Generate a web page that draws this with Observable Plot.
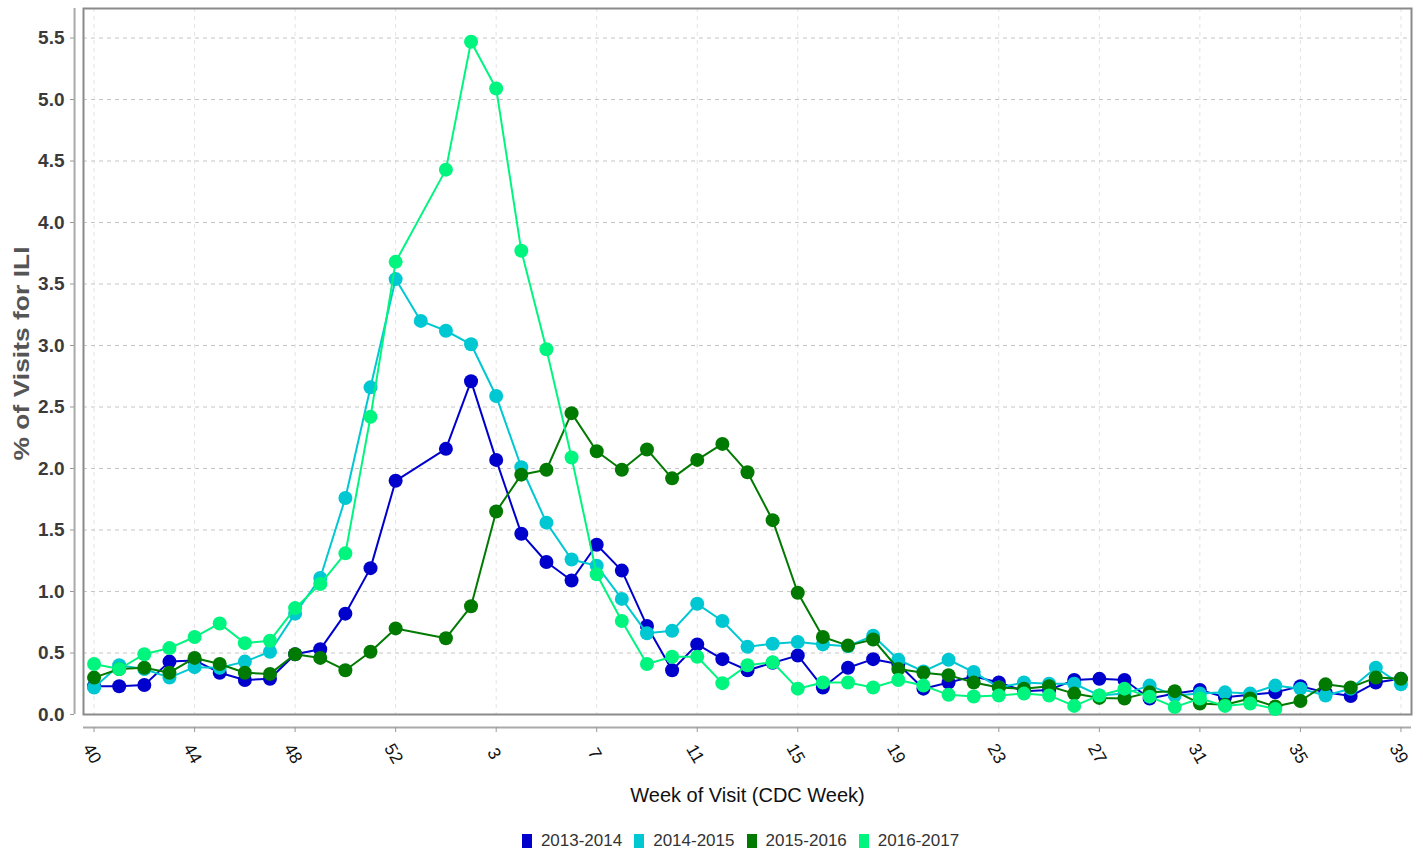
<!DOCTYPE html>
<html><head><meta charset="utf-8">
<script src="https://cdn.jsdelivr.net/npm/d3@7"></script>
<script src="https://cdn.jsdelivr.net/npm/@observablehq/plot@0.6"></script>
<style>
body{margin:0;background:#fff;font-family:"Liberation Sans",Arial,sans-serif;}
#wrap{position:relative;width:1423px;height:852px;overflow:hidden;}
#legend{position:absolute;left:0;top:831px;width:1423px;box-sizing:border-box;padding-left:58px;display:flex;justify-content:center;gap:12px;font-size:17px;color:#333;line-height:20px;}
.item{display:flex;align-items:center;}
.sw{width:10px;height:14px;margin-right:9px;}
</style></head><body>
<div id="wrap"><div id="chart"></div><div id="legend"></div></div>
<script>
// CDC weeks in season order (week 53 exists only in 2014-2015)
const weeks = [40,41,42,43,44,45,46,47,48,49,50,51,52,53,1,2,3,4,5,6,7,8,9,10,11,12,13,14,15,16,17,18,19,20,21,22,23,24,25,26,27,28,29,30,31,32,33,34,35,36,37,38,39];
const tickWeeks = [40,44,48,52,3,7,11,15,19,23,27,31,35,39];
const yTicks = [0,0.5,1,1.5,2,2.5,3,3.5,4,4.5,5,5.5];
const seasons = ["2013-2014","2014-2015","2015-2016","2016-2017"];
const colors = ["#0000CD","#00C8D2","#007A00","#00F57F"];

const s2013 = [0.23,0.23,0.24,0.43,0.44,0.34,0.28,0.29,0.49,0.53,0.82,1.19,1.90,null,2.16,2.71,2.07,1.47,1.24,1.09,1.38,1.17,0.72,0.36,0.57,0.45,0.36,0.42,0.48,0.22,0.38,0.45,0.41,0.21,0.26,0.31,0.26,0.19,0.20,0.28,0.29,0.28,0.13,0.17,0.20,0.14,0.16,0.18,0.23,0.18,0.15,0.26,0.29];
const s2014 = [0.22,0.40,0.37,0.30,0.385,0.38,0.43,0.51,0.82,1.11,1.76,2.66,3.54,3.20,3.12,3.01,2.59,2.01,1.56,1.26,1.21,0.94,0.66,0.68,0.90,0.76,0.55,0.575,0.59,0.57,0.555,0.64,0.445,0.35,0.445,0.345,0.22,0.26,0.25,0.25,0.155,0.17,0.235,0.155,0.17,0.18,0.17,0.235,0.21,0.155,0.21,0.38,0.245];
const s2015 = [0.30,0.37,0.38,0.34,0.46,0.41,0.34,0.33,0.49,0.46,0.36,0.51,0.70,null,0.62,0.88,1.65,1.95,1.99,2.45,2.14,1.99,2.155,1.92,2.07,2.20,1.97,1.58,0.99,0.63,0.56,0.61,0.37,0.34,0.32,0.26,0.22,0.21,0.23,0.17,0.135,0.13,0.18,0.19,0.09,0.08,0.13,0.065,0.11,0.245,0.22,0.30,0.29];
const s2016 = [0.41,0.37,0.49,0.54,0.63,0.74,0.58,0.60,0.865,1.06,1.31,2.42,3.68,null,4.43,5.47,5.09,3.77,2.97,2.09,1.14,0.76,0.41,0.47,0.47,0.255,0.40,0.425,0.21,0.26,0.26,0.22,0.28,0.235,0.16,0.146,0.155,0.17,0.155,0.07,0.155,0.21,0.145,0.06,0.13,0.07,0.09,0.045,null,null,null,null,null];

const seriesValues = [s2013, s2014, s2015, s2016];
const rowsBySeason = seasons.map((s, k) =>
  weeks.map((w, i) => ({season: s, week: w, value: seriesValues[k][i]})).filter(d => d.value != null)
);

const FONT = "'Liberation Sans', Arial, sans-serif";
const seriesMarks = [];
seasons.forEach((s, k) => {
  seriesMarks.push(Plot.line(rowsBySeason[k], {x: "week", y: "value", stroke: colors[k], strokeWidth: 2}));
  seriesMarks.push(Plot.dot(rowsBySeason[k], {x: "week", y: "value", fill: colors[k], r: 7}));
});

const chart = Plot.plot({
  width: 1423, height: 822,
  marginTop: 8, marginLeft: 83, marginRight: 12, marginBottom: 108,
  x: {type: "point", domain: weeks, padding: 0.42, round: false, axis: null},
  y: {domain: [0, 5.74], axis: null},
  style: {fontFamily: FONT, background: "white", overflow: "visible"},
  marks: [
    Plot.gridX(tickWeeks, {stroke: "#e4e4e4", strokeOpacity: 1, strokeDasharray: "4,4"}),
    Plot.gridY(yTicks, {stroke: "#c6c6c6", strokeOpacity: 1, strokeDasharray: "4,4"}),
    Plot.frame({stroke: "#8a8a8a", strokeWidth: 2}),
    Plot.ruleX([weeks[0]], {dx: -19.5, stroke: "#aaa", strokeWidth: 2}),
    Plot.ruleY([0], {dy: 13, stroke: "#aaa", strokeWidth: 2}),
    Plot.axisY(yTicks, {tickSize: 4, tickPadding: 6, dx: -9, tickFormat: d3.format(".1f"), fontSize: 19, fontWeight: "bold", fill: "#3a3a3a", stroke: "#999", label: null}),
    Plot.axisX(tickWeeks, {tickSize: 5, dy: 13, fill: "none", stroke: "#999", label: null}),
    Plot.text(tickWeeks, {x: d => d, text: d => String(d), frameAnchor: "bottom", dy: 42, dx: -7, rotate: 60, fontSize: 17.5, fill: "#111"}),
    Plot.text(["% of Visits for ILI"], {text: d => d, frameAnchor: "left", textAnchor: "middle", dx: -62, dy: -8, rotate: -90, fontSize: 22, fontWeight: "bold", fill: "#555"}),
    Plot.text(["Week of Visit (CDC Week)"], {text: d => d, frameAnchor: "bottom", dy: 87, fontSize: 20, fill: "#111"}),
    ...seriesMarks
  ]
});
document.getElementById("chart").appendChild(chart);

// stretch the y title along its length as in the reference
d3.select(chart).selectAll("text").filter(function() { return this.textContent === "% of Visits for ILI"; })
  .attr("textLength", 214).attr("lengthAdjust", "spacingAndGlyphs");

const legend = d3.select("#legend");
seasons.forEach((s, k) => {
  const item = legend.append("div").attr("class", "item");
  item.append("div").attr("class", "sw").style("background", colors[k]);
  item.append("span").text(s);
});
</script>
</body></html>
